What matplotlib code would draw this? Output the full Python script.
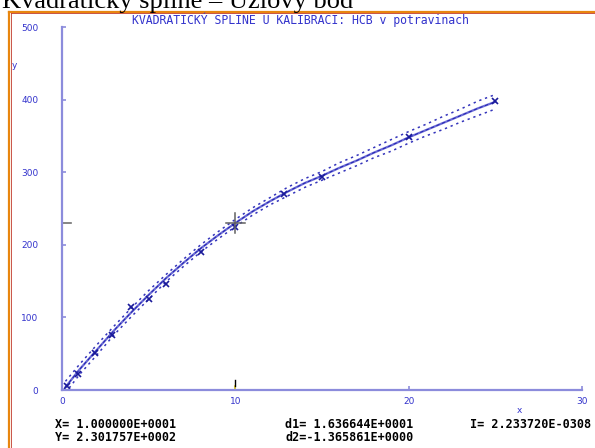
import numpy as np
import matplotlib
matplotlib.use("Agg")
import matplotlib.pyplot as plt

# calibration points (HCB)
x_pts = [0.3, 0.9, 1.9, 2.9, 4.0, 5.0, 6.0, 8.0, 10.0, 12.8, 15.0, 20.0, 25.0]
y_pts = [5, 22, 51, 76, 114, 126, 146, 190, 225, 270, 293, 348, 398]

# quadratic spline read at whole x
x_fit = [0.2, 1, 2, 3, 4, 5, 6, 7, 8, 9, 10, 11, 12, 13, 14, 15,
         16, 17, 18, 19, 20, 21, 22, 23, 24, 25]
y_fit = [4, 28, 55, 82, 107, 131, 154, 175, 195, 213, 230, 246, 260, 273, 285, 295,
         306, 316, 327, 337, 348, 358, 368, 378, 388, 397]
# half-width of the confidence band
band = [8, 7, 7, 6, 6, 6, 5, 5, 5, 5, 5, 5, 5, 6, 6, 6,
        7, 7, 7, 8, 8, 8, 9, 9, 10, 10]

cursor_x = 1.000000e1
cursor_y = 2.301757e2
d1 = 1.636644e1
d2 = -1.365861e0
integ = "2.233720E-0308"

title = "KVADRATICKÝ SPLINE U KALIBRACI: HCB v potravinach"
slide_title = "Kvadratický spline – Uzlový bod"

W, H = 595, 448
fig = plt.figure(figsize=(W / 100, H / 100), dpi=100)
fig.patch.set_facecolor("white")

# slide frame
fig.add_artist(plt.Line2D([9 / W, 9 / W], [0, 1 - 12 / H], color="#e8860f", lw=1.6))
fig.add_artist(plt.Line2D([9 / W, 1], [1 - 12 / H, 1 - 12 / H], color="#e8860f", lw=1.6))
fig.add_artist(plt.Line2D([10.5 / W, 10.5 / W], [0, 1 - 13.5 / H], color="#c0392b", lw=0.6))
fig.add_artist(plt.Line2D([10.5 / W, 1], [1 - 13.5 / H, 1 - 13.5 / H], color="#c0392b", lw=0.6))
fig.text(2 / W, 1 - 8 / H, slide_title, fontsize=19, family="Liberation Serif",
         va="baseline", ha="left", color="black")

ax = fig.add_axes([62 / W, 1 - 390 / H, 520 / W, 363 / H])
blue_ax = "#8c8cdc"
lab = "#3333cc"
for s in ["top", "right"]:
    ax.spines[s].set_visible(False)
for s in ["left", "bottom"]:
    ax.spines[s].set_color(blue_ax)
    ax.spines[s].set_linewidth(1.6)
ax.set_xlim(0, 30)
ax.set_ylim(0, 500)
ax.set_xticks([0, 10, 20, 30])
ax.set_yticks([0, 100, 200, 300, 400, 500])
ax.tick_params(axis="both", direction="in", length=3, width=1.2, color=blue_ax,
               labelsize=6.5, labelcolor=lab)
ax.tick_params(axis="y", pad=17)
ax.tick_params(axis="x", pad=5)

ya = np.array(y_fit)
bw = np.array(band)
ax.plot(x_fit, ya + bw, ls=(0, (1.5, 2.5)), color="#3333bb", lw=1.1)
ax.plot(x_fit, ya - bw, ls=(0, (1.5, 2.5)), color="#3333bb", lw=1.1)
ax.plot(x_fit, y_fit, color="#6b6bd6", lw=1.6)
ax.plot(x_fit, y_fit, color="#1a1aaa", lw=0.6, ls=(0, (4, 3)))
ax.plot(x_pts, y_pts, ls="none", marker="x", ms=5, mew=1.2, color="#1a1a9a")

# cursor
ax.plot([cursor_x - 0.55, cursor_x + 0.55], [cursor_y, cursor_y], color="#606060", lw=1.1)
ax.plot([cursor_x, cursor_x], [cursor_y - 14, cursor_y + 14], color="#606060", lw=1.1)
ax.plot([0, 0.5], [cursor_y, cursor_y], color="#707070", lw=1.2, clip_on=False)
ax.plot([cursor_x, cursor_x], [0, 6], color="#e8d020", lw=1.2, clip_on=False)
ax.plot([cursor_x, cursor_x], [6, 14], color="black", lw=1.0, clip_on=False)

fig.text(300 / W, 1 - 20 / H, title, fontsize=8.3, family="DejaVu Sans Mono",
         color=lab, ha="center", va="center")
fig.text(14 / W, 1 - 65 / H, "y", fontsize=6.5, color=lab, ha="center", va="center")
fig.text(519 / W, 1 - 410 / H, "x", fontsize=6.5, color=lab, ha="center", va="center")

mono = dict(fontsize=8.5, family="DejaVu Sans Mono", fontweight="bold", color="black",
            va="center", ha="left")
fig.text(55 / W, 1 - 424 / H, f"X= {cursor_x:.6E}".replace("E+01", "E+0001"), **mono)
fig.text(55 / W, 1 - 437 / H, f"Y= {cursor_y:.6E}".replace("E+02", "E+0002"), **mono)
fig.text(285 / W, 1 - 424 / H, f"d1= {d1:.6E}".replace("E+01", "E+0001"), **mono)
fig.text(285 / W, 1 - 437 / H, f"d2={d2:.6E}".replace("E+00", "E+0000"), **mono)
fig.text(470 / W, 1 - 424 / H, f"I= {integ}", **mono)

fig.savefig("out.png", dpi=100)
